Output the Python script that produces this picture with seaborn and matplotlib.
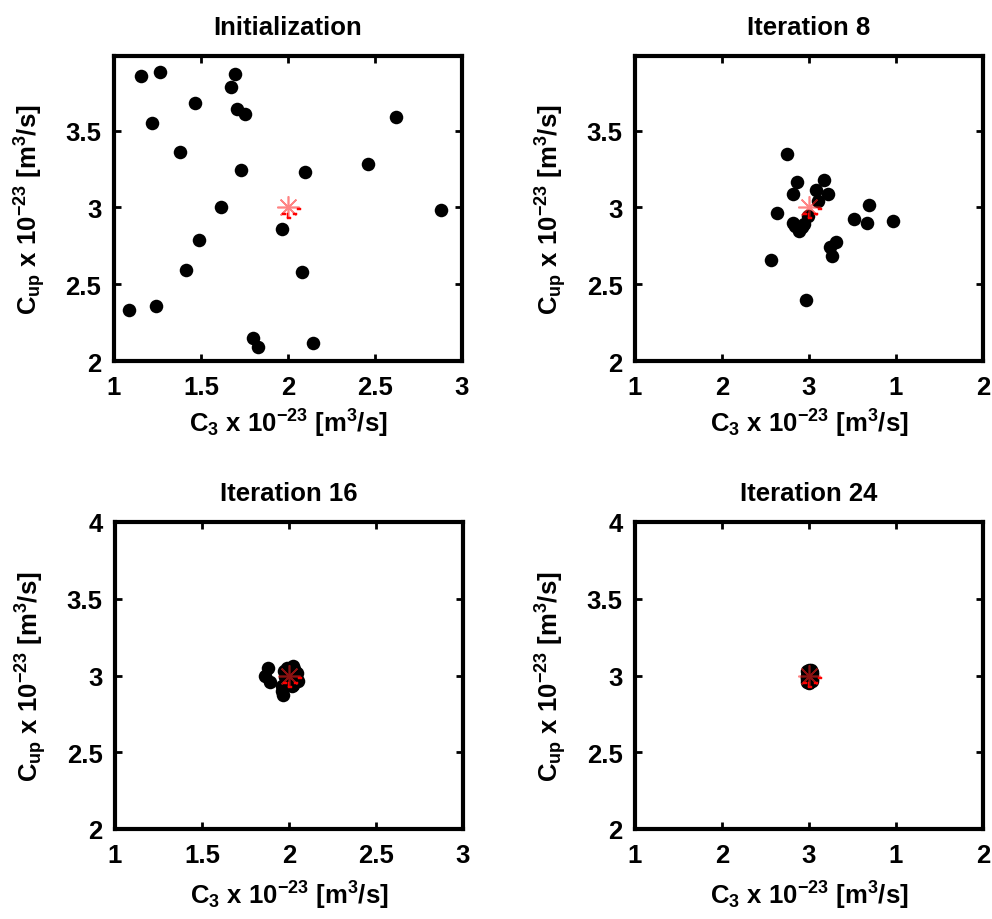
import numpy as np
import pandas as pd
import matplotlib
matplotlib.use("Agg")
import matplotlib.pyplot as plt
import seaborn as sns
from matplotlib.path import Path
from matplotlib.markers import MarkerStyle

# ---------------- data ----------------
titles = ["Initialization", "Iteration 8", "Iteration 16", "Iteration 24"]
true_c3 = [2.0]
true_cup = [3.0]

init_c3 = [1.155, 1.264, 1.695, 1.674, 1.464, 1.705, 1.755, 1.216, 2.62, 1.379, 1.732, 2.096,
           2.457, 1.615, 2.877, 1.966, 1.487, 1.416, 2.082, 1.088, 1.241, 1.80, 1.828, 2.142]
init_cup = [3.855, 3.88, 3.865, 3.785, 3.68, 3.64, 3.61, 3.546, 3.585, 3.36, 3.246, 3.233,
            3.285, 3.005, 2.98, 2.86, 2.79, 2.593, 2.578, 2.334, 2.36, 2.148, 2.09, 2.12]

it8_c3 = [1.875, 1.933, 2.088, 1.908, 2.038, 2.107, 2.05, 1.816, 1.992, 1.91, 1.94, 1.971,
          1.945, 1.92, 2.26, 2.343, 2.331, 2.485, 2.155, 2.123, 2.134, 1.78, 1.981, 1.96]
it8_cup = [3.347, 3.166, 3.181, 3.088, 3.114, 3.088, 3.044, 2.966, 2.945, 2.9, 2.875, 2.89,
           2.845, 2.88, 2.925, 3.018, 2.9, 2.914, 2.777, 2.74, 2.686, 2.658, 2.4, 2.87]

it16_c3 = [1.88, 1.862, 1.89, 1.958, 1.967, 1.987, 2.025, 2.044, 2.053, 2.025, 1.97, 2.015,
           2.0, 2.01, 1.99, 2.03, 1.975, 2.04, 2.005, 1.985, 2.02, 1.96, 2.035, 2.0]
it16_cup = [3.05, 2.995, 2.96, 2.93, 2.87, 3.05, 3.06, 3.017, 2.963, 2.94, 3.03, 2.93,
            3.0, 2.98, 3.02, 3.04, 2.99, 2.99, 2.95, 2.96, 3.0, 2.9, 2.97, 3.035]

it24_c3 = [1.99, 2.01, 2.02, 2.0, 1.99, 2.005, 1.995, 2.01, 2.015, 1.995, 1.99, 2.01,
           2.0, 1.995, 2.02, 2.005, 1.99, 2.015, 1.99, 2.0, 2.0, 1.995, 2.015, 2.005]
it24_cup = [3.03, 3.035, 2.99, 2.95, 2.96, 3.0, 3.02, 3.02, 2.965, 2.955, 2.99, 3.0,
            3.035, 3.01, 3.01, 2.97, 2.98, 2.975, 3.0, 2.96, 3.02, 2.97, 3.025, 2.99]

xticks = [1, 1.5, 2, 2.5, 3]
xticklabels_left = ["1", "1.5", "2", "2.5", "3"]
xticklabels_right = ["1", "2", "3", "1", "2"]
yticks_top = [2, 2.5, 3, 3.5]
yticklabels_top = ["2", "2.5", "3", "3.5"]
yticks_bottom = [2, 2.5, 3, 3.5, 4]
yticklabels_bottom = ["2", "2.5", "3", "3.5", "4"]

# ---------------- style ----------------
sns.set_theme(style="ticks")
plt.rcParams["font.family"] = ["Liberation Sans", "DejaVu Sans"]
plt.rcParams.update({
    "mathtext.default": "regular",
    "text.color": "black", "axes.labelcolor": "black",
    "xtick.color": "black", "ytick.color": "black",
    "axes.linewidth": 3,
    "xtick.direction": "in", "ytick.direction": "in",
    "xtick.top": True, "ytick.right": True,
    "xtick.major.size": 5, "ytick.major.size": 5,
    "xtick.major.width": 2, "ytick.major.width": 2,
    "xtick.major.pad": 10, "ytick.major.pad": 9,
})

FS = 18.5
xlabel = r"C$_3$ x 10$^{-23}$ [m$^3$/s]"
ylabel = r"C$_{up}$ x 10$^{-23}$ [m$^3$/s]"

# small red dash glyph drawn with the true-value marker (pixel-like units)
def rect(x0, x1, y0, y1):
    return [(x0, y0), (x1, y0), (x1, y1), (x0, y1), (x0, y0)]
rects = [rect(9, 13, -1.0, -2.6), rect(-6, -2, -6, -7.6), rect(5, 9, -6, -7.6),
         rect(-1, 3, -10, -11.6), rect(-0.8, 0.4, -6.5, -11), rect(-13, -12.9, 13, 12.9)]
verts, codes = [], []
for r in rects:
    verts += r
    codes += [Path.MOVETO, Path.LINETO, Path.LINETO, Path.LINETO, Path.CLOSEPOLY]
dash_marker = MarkerStyle(Path(verts, codes))

fig = plt.figure(figsize=(9.92, 9.2), dpi=100)
W = 348 / 992
positions = [
    [114 / 992, 1 - 362 / 920, W, 305 / 920],
    [635 / 992, 1 - 362 / 920, W, 305 / 920],
    [115 / 992, 1 - 830 / 920, W, 307 / 920],
    [635 / 992, 1 - 830 / 920, W, 307 / 920],
]
datasets = [(init_c3, init_cup), (it8_c3, it8_cup), (it16_c3, it16_cup), (it24_c3, it24_cup)]

for i, (pos, (xs, ys)) in enumerate(zip(positions, datasets)):
    ax = fig.add_axes(pos)
    df = pd.DataFrame({"C3": xs, "Cup": ys})
    sns.scatterplot(data=df, x="C3", y="Cup", ax=ax, color="black", s=95,
                    edgecolor="black", linewidth=0, zorder=3)
    tdf = pd.DataFrame({"C3": true_c3, "Cup": true_cup})
    ax.plot(tdf["C3"], tdf["Cup"], linestyle="none", marker=(8, 2, 0), markersize=16,
            markeredgecolor="#ff2020", markeredgewidth=1.2, alpha=0.55, zorder=5)
    ax.plot(tdf["C3"], tdf["Cup"], linestyle="none", marker=dash_marker, markersize=18.7,
            markerfacecolor="red", markeredgecolor="red", markeredgewidth=0.3, zorder=5)
    ax.set_xlim(1, 3)
    ax.set_xticks(xticks)
    ax.set_xticklabels(xticklabels_left if i % 2 == 0 else xticklabels_right,
                       fontsize=FS, fontweight="bold")
    if i < 2:
        ax.set_ylim(2, 3.985)
        ax.set_yticks(yticks_top)
        ax.set_yticklabels(yticklabels_top, fontsize=FS, fontweight="bold")
    else:
        ax.set_ylim(2, 4)
        ax.set_yticks(yticks_bottom)
        ax.set_yticklabels(yticklabels_bottom, fontsize=FS, fontweight="bold")
    ax.set_xlabel(xlabel, fontsize=FS, fontweight="bold", va="center")
    ax.set_ylabel(ylabel, fontsize=FS, fontweight="bold", va="center")
    h_px = pos[3] * 920
    if i < 2:
        ax.xaxis.set_label_coords(0.5, -(424 - 362) / h_px)
    else:
        ax.xaxis.set_label_coords(0.5, -(896 - 830) / h_px)
    ax.yaxis.set_label_coords(-84 / 348, 0.5)
    ax.set_title(titles[i], fontsize=FS, fontweight="bold", pad=16)
    for sp in ax.spines.values():
        sp.set_visible(True)
        sp.set_linewidth(3)
        sp.set_color("black")

fig.savefig("out.png", dpi=100, facecolor="white")
